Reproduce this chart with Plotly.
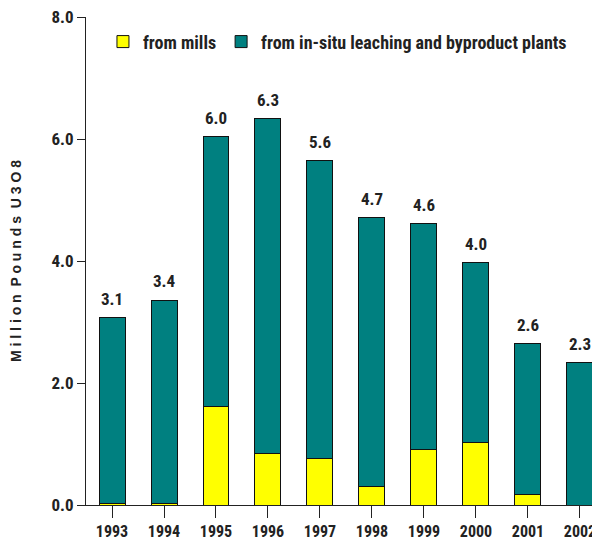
import plotly.graph_objects as go

years = ["1993", "1994", "1995", "1996", "1997", "1998", "1999", "2000", "2001", "2002"]
from_mills = [0.02, 0.02, 1.61, 0.85, 0.77, 0.31, 0.91, 1.02, 0.17, 0.0]
from_isl = [3.05, 3.34, 4.43, 5.48, 4.87, 4.40, 3.70, 2.95, 2.47, 2.34]
totals = [round(m + i, 2) for m, i in zip(from_mills, from_isl)]
y_ticks = [0, 2, 4, 6, 8]

FONT = "Roboto Condensed, DejaVu Sans Condensed, Arial Narrow, sans-serif"
INK = "#222222"

fig = go.Figure()

fig.add_trace(go.Bar(
    x=years, y=from_mills, name="from mills",
    marker=dict(color="#FFFF00", line=dict(color="#111111", width=1)),
))
fig.add_trace(go.Bar(
    x=years, y=from_isl, name="from in-situ leaching and byproduct plants",
    marker=dict(color="#008080", line=dict(color="#111111", width=1)),
))

# total labels above each stack (invisible marker just pushes the text up)
fig.add_trace(go.Scatter(
    x=years, y=totals, mode="markers+text",
    marker=dict(size=12, color="rgba(0,0,0,0)"),
    text=[f"{t:.1f}" for t in totals], textposition="top center",
    textfont=dict(family=FONT, size=17, color=INK, weight="bold"),
    showlegend=False, hoverinfo="skip", cliponaxis=False,
))

# page body has an 8px margin, so the figure is a bit smaller than the window
fig.update_layout(
    width=592, height=543,
    barmode="stack", bargap=0.5,
    plot_bgcolor="white", paper_bgcolor="white",
    margin=dict(l=78, r=0, t=9, b=46),
    font=dict(family=FONT, size=17, color=INK, weight="bold"),
    showlegend=True,
    legend=dict(
        orientation="h", x=0.033, y=0.949, xanchor="left", yanchor="middle",
        font=dict(family=FONT, size=18, color=INK, weight="bold"),
        itemwidth=30, traceorder="normal",
        bgcolor="rgba(0,0,0,0)",
    ),
)

fig.update_yaxes(
    range=[0, 8], tickvals=y_ticks, ticktext=[f"{v:.1f}" for v in y_ticks],
    showgrid=False, zeroline=False, automargin=False, ticklabeloverflow="allow",
    showline=True, linecolor=INK, linewidth=1,
    ticks="outside", ticklen=8, tickcolor=INK,
    tickfont=dict(family=FONT, size=17, color=INK, weight="bold"),
    title=dict(text="M i l l i o n  P o u n d s  U 3 O 8", standoff=26,
               font=dict(family="Liberation Sans, Arial, sans-serif", size=14, color=INK, weight="bold")),
)
fig.update_xaxes(
    range=[-0.5, 9.385], tickvals=years, ticktext=years,
    showgrid=False, showline=True, linecolor=INK, linewidth=1, automargin=False,
    ticks="outside", ticklen=12, tickcolor=INK,
    tickfont=dict(family=FONT, size=16, color=INK, weight="bold"),
)

fig.write_html("out.html")
